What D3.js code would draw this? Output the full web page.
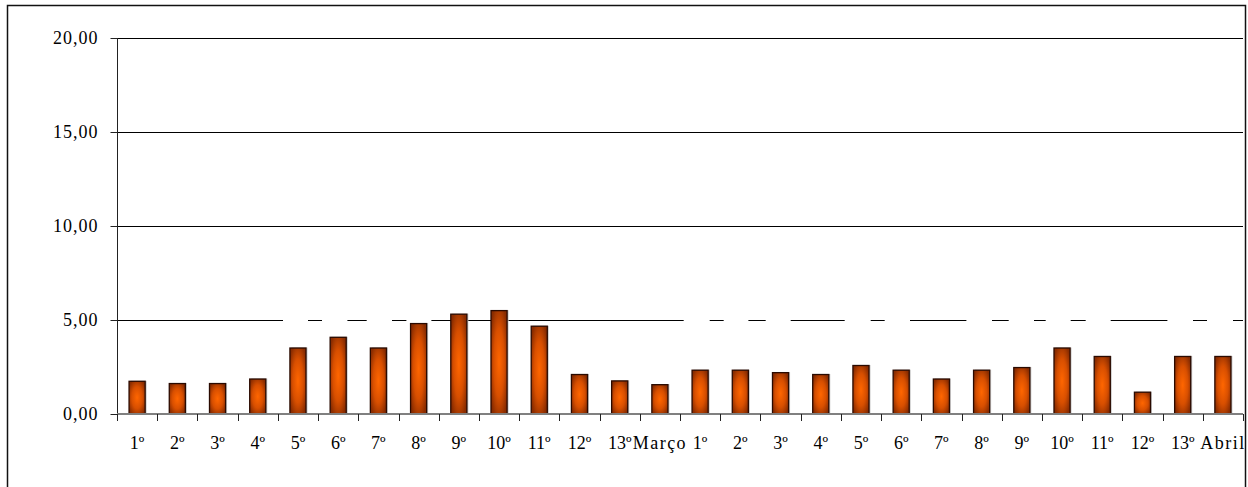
<!DOCTYPE html>
<html>
<head>
<meta charset="utf-8">
<script src="https://cdn.jsdelivr.net/npm/d3@7"></script>
<style>
  body { margin: 0; background: #fff; }
  svg text { font-family: "Liberation Serif", "DejaVu Serif", serif; font-size: 18px; fill: #000; }
</style>
</head>
<body>
<div id="container"></div>
<script>
// week labels, March block then April block
const categories = ["1º","2º","3º","4º","5º","6º","7º","8º","9º","10º","11º","12º","13º","Março",
	"1º","2º","3º","4º","5º","6º","7º","8º","9º","10º","11º","12º","13º","Abril"];
const values = [1.74,1.62,1.62,1.86,3.51,4.08,3.51,4.81,5.31,5.50,4.67,2.10,1.76,1.56,
	2.33,2.33,2.20,2.10,2.58,2.33,1.86,2.33,2.47,3.51,3.06,1.16,3.06,3.06];
const yTicks = [0, 5, 10, 15, 20];

const dimensions = {
	width: 1248,
	height: 487,
	margin: { left: 117, right: 5, top: 38, bottom: 73 }
}

const svg = d3.select("#container")
	.append("svg")
	.attr("width", dimensions.width)
	.attr("height", dimensions.height)

// outer frame of the chart
svg.append("rect")
	.attr("x", 7.5).attr("y", 5.5)
	.attr("width", 1238).attr("height", 500)
	.attr("fill", "none").attr("stroke", "#111").attr("stroke-width", 1.5)

svg.append("clipPath").attr("id", "frame")
	.append("rect").attr("x", 8).attr("y", 6).attr("width", 1237).attr("height", 490)

const x = d3.scaleBand()
	.domain(d3.range(categories.length))
	.range([dimensions.margin.left, dimensions.width - dimensions.margin.right])
	.paddingInner(0.6)
	.paddingOuter(0.3)

const y = d3.scaleLinear()
	.domain([0, 20])
	.range([dimensions.height - dimensions.margin.bottom, dimensions.margin.top])

const step = x.step()
const x0 = dimensions.margin.left
const x1 = x0 + step * categories.length

// gradient: dark brown edges, bright orange centre
const defs = svg.append("defs")
const grad = defs.append("radialGradient")
	.attr("id", "barFill")
	.attr("cx", 0.5).attr("cy", 0.5).attr("r", 0.6)
grad.append("stop").attr("offset", "0%").attr("stop-color", "#ff6600")
grad.append("stop").attr("offset", "55%").attr("stop-color", "#d84f00")
grad.append("stop").attr("offset", "100%").attr("stop-color", "#8a2c00")

// gridlines (the 5,00 line is broken in the original rendering)
const gridDash = {5: "166,25,14,25.4,19.3,25.3,14.4,25,252.3,26,14,24.7,17.3,25,54,26,14,25.3,56.4,25.6,16.7,25.3,11.7,25,15,25,56.7,25.6,14,26,10"}
svg.append("g")
	.selectAll("line")
	.data(yTicks.filter(d => d > 0))
	.enter()
	.append("line")
	.attr("x1", x0).attr("x2", x1)
	.attr("y1", d => Math.round(y(d)) + 0.5)
	.attr("y2", d => Math.round(y(d)) + 0.5)
	.attr("stroke", "#000")
	.attr("stroke-width", 1)
	.attr("stroke-dasharray", d => gridDash[d] || null)

// y axis
const yAxis = svg.append("g")
	.attr("transform", `translate(${x0 + 0.5},0)`)
	.call(d3.axisLeft(y)
		.tickValues(yTicks)
		.tickSize(7)
		.tickPadding(12)
		.tickFormat(d => d3.format(".2f")(d).replace(".", ",")))
yAxis.select(".domain").attr("d", `M0,${y(20)}V${y(0) + 7}`).attr("stroke", "#222")
yAxis.selectAll(".tick line").attr("stroke", "#222")
yAxis.selectAll("text")
	.attr("font-family", null).attr("font-size", null)
	.attr("letter-spacing", "1px")

// bars with a faint shadow
const bars = svg.append("g").attr("clip-path", "url(#frame)")
bars.selectAll("rect.shadow")
	.data(values)
	.enter()
	.append("rect")
	.attr("class", "shadow")
	.attr("x", (d, i) => x(i) + 1.5)
	.attr("y", d => y(d) - 0.5)
	.attr("width", x.bandwidth())
	.attr("height", d => y(0) - y(d))
	.attr("fill", "#c8c8c8")

bars.selectAll("rect.bar")
	.data(values)
	.enter()
	.append("rect")
	.attr("class", "bar")
	.attr("x", (d, i) => x(i))
	.attr("y", d => y(d))
	.attr("width", x.bandwidth())
	.attr("height", d => y(0) - y(d))
	.attr("fill", "url(#barFill)")
	.attr("stroke", "#2a0a00")
	.attr("stroke-width", 1.3)

// x axis: grey baseline, ticks between categories
const xAxis = svg.append("g").attr("clip-path", "url(#frame)")
xAxis.append("line")
	.attr("x1", x0).attr("x2", x1)
	.attr("y1", y(0)).attr("y2", y(0))
	.attr("stroke", "#808080").attr("stroke-width", 2)
xAxis.selectAll("line.tick")
	.data(d3.range(categories.length + 1))
	.enter()
	.append("line")
	.attr("class", "tick")
	.attr("x1", i => Math.round(x0 + i * step) + 0.5)
	.attr("x2", i => Math.round(x0 + i * step) + 0.5)
	.attr("y1", y(0)).attr("y2", y(0) + 7)
	.attr("stroke", "#222")
xAxis.selectAll("text")
	.data(categories)
	.enter()
	.append("text")
	.attr("x", (d, i) => x(i) + x.bandwidth() / 2)
	.attr("y", 449)
	.attr("text-anchor", "middle")
	.attr("letter-spacing", d => d.length > 3 ? "1.5px" : "0px")
	.text(d => d)
</script>
</body>
</html>
